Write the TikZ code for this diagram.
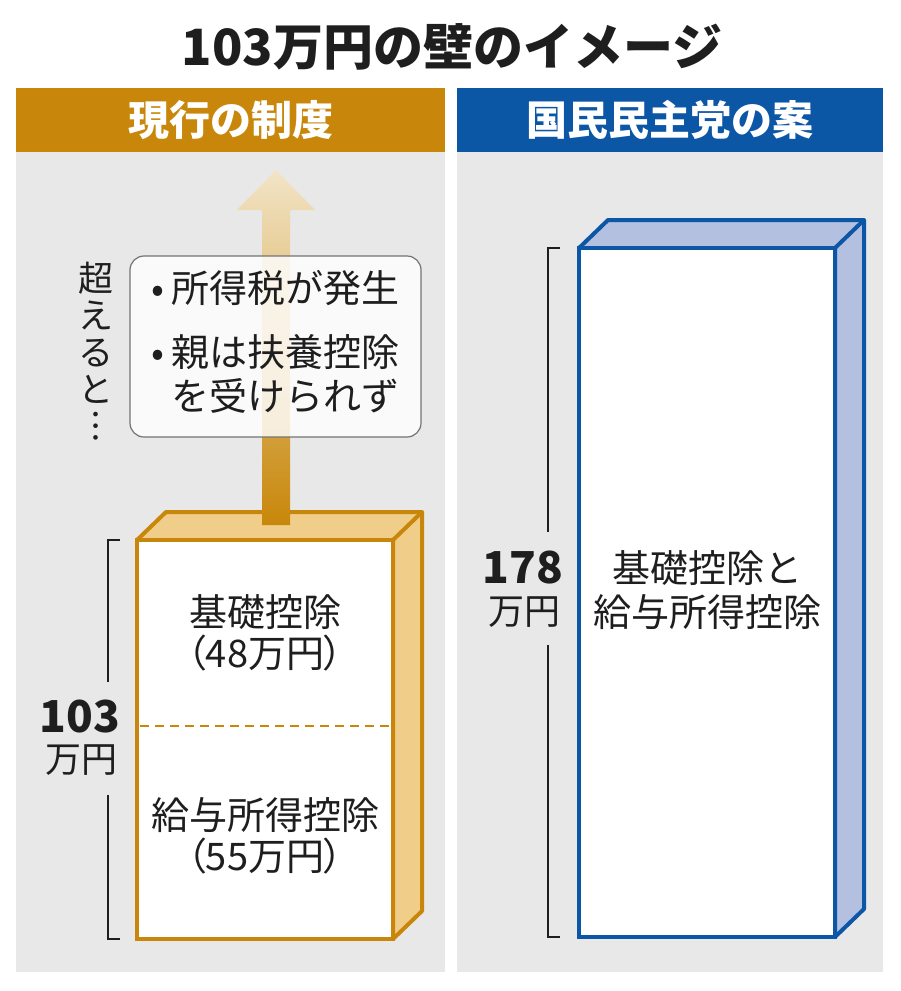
\documentclass[tikz,border=0pt]{standalone}
\usepackage{fontspec}
\setmainfont{Noto Sans CJK JP}
\newfontfamily\parenfont[RawFeature=+palt]{Noto Sans CJK JP}
\definecolor{goldbar}{RGB}{200,135,10}
\definecolor{goldside}{RGB}{240,206,138}
\definecolor{bluebar}{RGB}{12,86,166}
\definecolor{blueside}{RGB}{180,192,224}
\definecolor{panelgray}{RGB}{232,232,232}
\definecolor{arrowlight}{RGB}{242,228,198}
\definecolor{textdark}{RGB}{30,30,30}
\begin{document}
\begin{tikzpicture}[x=1pt, y=-1pt]
        \tikzstyle{headerstyle}=[text=white, font=\bfseries\fontsize{41}{41}\selectfont, minimum width=429pt, minimum height=64pt, inner sep=0pt]
        \tikzstyle{boxtext}=[text=textdark, font=\fontsize{38}{41}\selectfont, align=center, inner sep=0pt]
        \tikzstyle{numstyle}=[text=textdark, font=\bfseries\fontsize{44}{44}\selectfont, inner sep=0pt]
        \tikzstyle{unitstyle}=[text=textdark, font=\fontsize{36}{36}\selectfont, inner sep=0pt]
        \tikzstyle{bracketstyle}=[textdark, line width=1.3pt]
        \useasboundingbox (0,0) rectangle (900,991);
        \fill[white] (0,0) rectangle (900,991);

        % title and the two headers
        \node[text=textdark, font=\bfseries\fontsize{50}{50}\selectfont] (title) at (452,47) {103万円の壁のイメージ};
        \node[headerstyle, fill=goldbar] (now) at (230.5,120) {現行の制度};
        \node[headerstyle, fill=bluebar, minimum width=426pt] (plan) at (670,120) {国民民主党の案};

        % gray panels below the headers
        \fill[panelgray] (16,152) rectangle (445,972);
        \fill[panelgray] (457,152) rectangle (883,972);

        % draw the current box (103)
        \filldraw[goldbar, fill=goldside, line width=4pt, line join=round] (137,540) -- (166,512) -- (422,512) -- (422,911) -- (393,939) -- (393,540) -- cycle;
        \draw[goldbar, line width=4pt] (393,540) -- (422,512);
        \filldraw[goldbar, fill=white, line width=4pt] (137,540) rectangle (393,939);
        \draw[goldbar, line width=2pt, dash pattern=on 9pt off 6pt] (140,726) -- (391,726);

        % arrow going up out of the box
        \shade[top color=arrowlight, bottom color=goldbar] (262,525) -- (262,210) -- (237,210) -- (276,170) -- (315,210) -- (290,210) -- (290,525) -- cycle;

        % note box on top of the arrow
        \node[draw=black!55, line width=1.2pt, rounded corners=14pt, fill=white, fill opacity=0.82, text opacity=1,
              minimum width=291pt, minimum height=181pt, inner sep=0pt, text=textdark, font=\fontsize{38}{40}\selectfont] (note) at (275.5,346.5)
              {\begin{tabular}{@{}l@{\hspace{8pt}}l@{}}•&所得税が発生\\[20pt]•&親は扶養控除\\&を受けられず\end{tabular}};
        \node[text=textdark, font=\fontsize{35}{37}\selectfont, align=center, inner sep=0pt] (exceed) at (96,351) {超\\え\\る\\と\\︙};

        % texts in the current box
        \node[boxtext] (basic) at (265,633) {基礎控除\\{\parenfont （48万円）}};
        \node[boxtext] (salary) at (265,836) {給与所得控除\\{\parenfont （55万円）}};

        % bracket and label for 103
        \draw[bracketstyle] (120,540) -- (108,540) -- (108,682);
        \draw[bracketstyle] (108,795) -- (108,939) -- (120,939);
        \node[numstyle, anchor=east] (num103) at (120,717) {103};
        \node[unitstyle, anchor=east] (unit103) at (118,760) {万円};

        % draw the proposed box (178)
        \filldraw[bluebar, fill=blueside, line width=4pt, line join=round] (579,248) -- (608,220) -- (864,220) -- (864,909) -- (835,937) -- (835,248) -- cycle;
        \draw[bluebar, line width=4pt] (835,248) -- (864,220);
        \filldraw[bluebar, fill=white, line width=4pt] (579,248) rectangle (835,937);
        \node[boxtext, font=\fontsize{38}{44}\selectfont] (both) at (707,590) {基礎控除と\\給与所得控除};

        % bracket and label for 178
        \draw[bracketstyle] (560,248) -- (548,248) -- (548,532);
        \draw[bracketstyle] (548,645) -- (548,937) -- (560,937);
        \node[numstyle, anchor=east] (num178) at (563,568) {178};
        \node[unitstyle, anchor=east] (unit178) at (561,612) {万円};
\end{tikzpicture}
\end{document}
